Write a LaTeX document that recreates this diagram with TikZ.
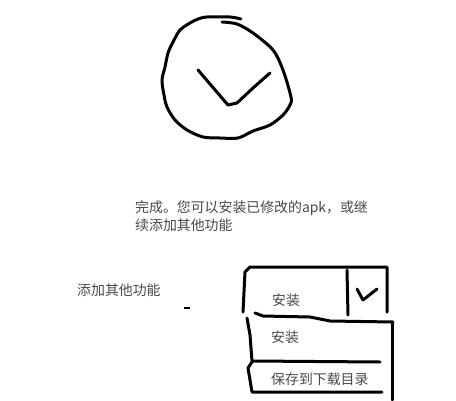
\documentclass[tikz,border=0pt]{standalone}
\usepackage{fontspec}
\newfontfamily\cjk{Noto Sans CJK SC}
\definecolor{labelgray}{HTML}{484848}
\tikzset{
  pen/.style={line width=3pt,black,line cap=round,line join=round},
  label/.style={inner sep=0pt,anchor=base west,text=labelgray,font=\cjk\fontsize{13.9pt}{16pt}\selectfont},
}

\begin{document}
\begin{tikzpicture}[x=1pt,y=-1pt]
  \useasboundingbox (0,0) rectangle (456,400);

  % hand drawn circle
  \draw[pen] plot[smooth,tension=0.5] coordinates {(241,19) (230,17) (207,17) (198,19) (190,23) (180,30) (173,42) (168,53) (165,67) (162,80) (164,95) (167,107) (175,120) (187,130) (203,137) (220,138) (238,138) (253,131) (270,125) (283,115) (290,105) (291,97) (283,70) (273,50) (253,33) (237,24) (222,22)};
  % tick
  \draw[pen] (198,70) -- (228,105) -- (237,103) -- (253,88) -- (270,73);

  \node[label] (done) at (135,212) {完成。您可以安装已修改的apk，或继};
  \node[label] (more) at (135,230) {续添加其他功能};
  \node[label] (add) at (77,295) {添加其他功能};

  % button
  \draw[pen] (243,312) -- (245,272) -- (250,267) -- (387,267) -- (387,312);
  \draw[pen] (347,270) -- (348,315);
  \draw[pen] (357,289) -- (363,300) -- (377,289);
  \node[label] (btn) at (272,305) {安装};

  % menu
  \draw[pen] (255,313) -- (263,316) -- (310,317) -- (330,321) -- (393,322);
  \draw[pen] (392,322) -- (392,400);
  \draw[pen] (247,318) -- (250,335) -- (252,361) -- (380,362);
  \draw[pen] (252,362) -- (248,368) -- (252,392) -- (382,392);
  \node[label] (item) at (271,342) {安装};
  \node[label] (save) at (271,384) {保存到下载目录};

  % specks
  \draw[black,line width=1.2pt] (184,308) -- (190,308);
\end{tikzpicture}
\end{document}
